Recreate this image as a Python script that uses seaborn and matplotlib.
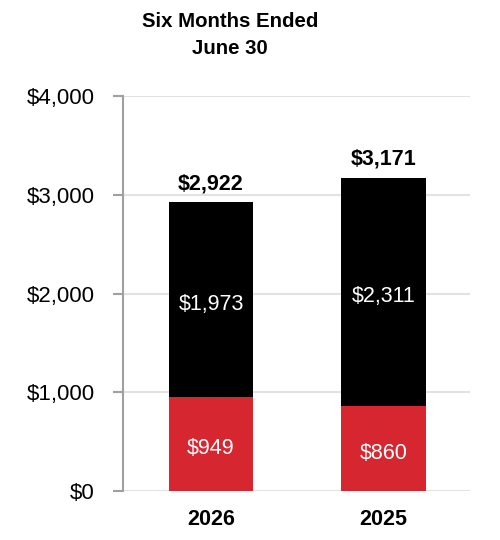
import matplotlib
matplotlib.use("Agg")
import matplotlib.pyplot as plt
import seaborn as sns
import pandas as pd

# data
years = ["2026", "2025"]
red_part = [949, 860]
black_part = [1973, 2311]
totals = [r + b for r, b in zip(red_part, black_part)]
yticks = [0, 1000, 2000, 3000, 4000]

RED = "#D62730"
sns.set_style("white")
plt.rcParams["font.family"] = ["Liberation Sans", "DejaVu Sans"]
plt.rcParams["text.color"] = "black"
plt.rcParams["xtick.color"] = "black"
plt.rcParams["ytick.color"] = "black"

df = pd.DataFrame({"year": years, "red": red_part, "black": black_part, "total": totals})

fig = plt.figure(figsize=(5, 5.4), dpi=100)
ax = fig.add_axes([0.246, 0.0907, 0.694, 0.7315])

# stacked: full height in black, lower segment in red over it
sns.barplot(data=df, x="year", y="total", color="black", width=0.49,
            saturation=1, linewidth=0, ax=ax, zorder=3)
sns.barplot(data=df, x="year", y="red", color=RED, width=0.49,
            saturation=1, linewidth=0, ax=ax, zorder=4)

# segment labels sit slightly below the segment middle
for i in range(len(years)):
    ax.text(i, red_part[i] / 2 - 45, f"${red_part[i]:,}", ha="center", va="center",
            color="white", fontsize=15.5, zorder=5)
    ax.text(i, red_part[i] + black_part[i] / 2 - 50, f"${black_part[i]:,}", ha="center",
            va="center", color="white", fontsize=15.5, zorder=5)
    ax.text(i, totals[i] + 80, f"${totals[i]:,}", ha="center", va="bottom",
            fontsize=15.5, fontweight="bold", zorder=5)

ax.set_ylim(0, 4000)
ax.set_xlim(-0.51, 1.5)
ax.set_yticks(yticks)
ax.set_yticklabels([f"${v:,}" for v in yticks], fontsize=16)
ax.set_xticklabels(years, fontsize=15.5, fontweight="bold")
ax.set_xlabel("")
ax.set_ylabel("")
ax.yaxis.grid(True, color="#e2e2e2", linewidth=1.5, zorder=0)
ax.set_axisbelow(True)
for s in ["top", "right", "bottom"]:
    ax.spines[s].set_visible(False)
ax.spines["left"].set_color("#a0a0a0")
ax.spines["left"].set_linewidth(1.5)
ax.tick_params(axis="y", left=True, length=7.2, width=1.5, color="#a0a0a0",
               labelcolor="black", pad=13)
ax.tick_params(axis="x", length=0, pad=13, labelcolor="black")

fig.text(0.46, 0.935, "Six Months Ended\nJune 30", ha="center", va="center",
         fontsize=14.7, fontweight="bold", linespacing=1.5)

fig.savefig("out.png", dpi=100)
